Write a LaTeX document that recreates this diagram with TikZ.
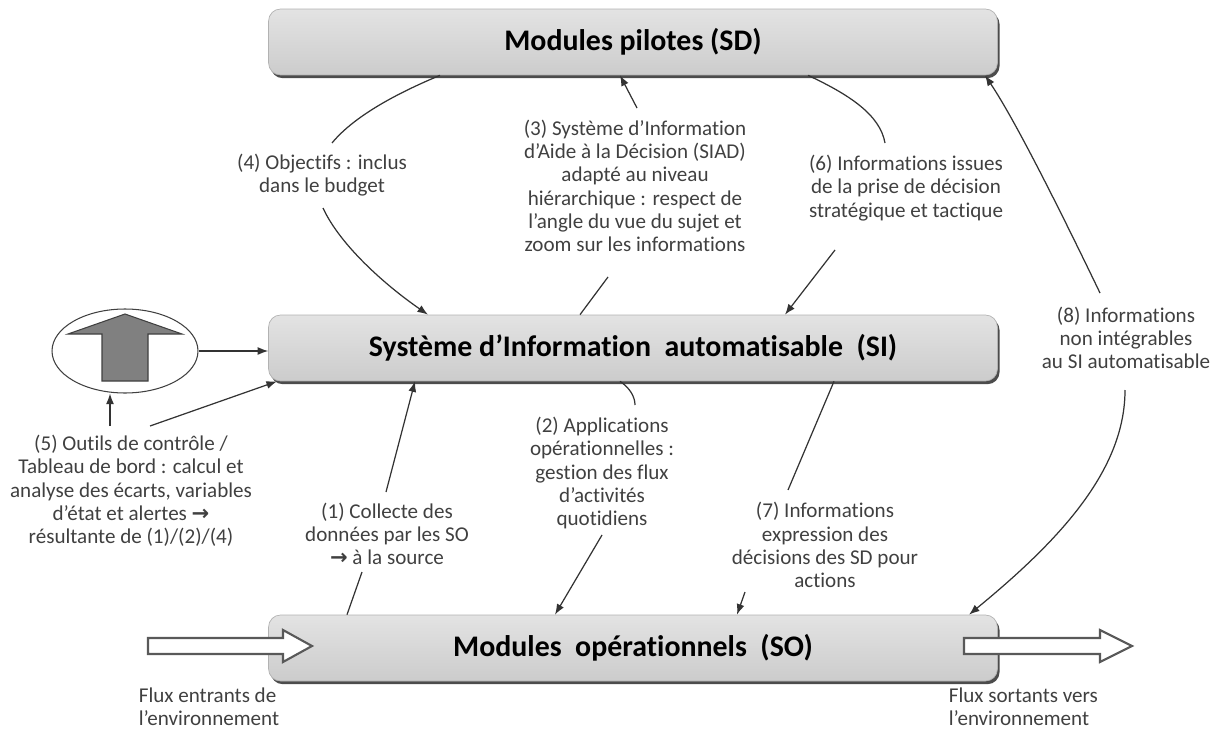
\documentclass[tikz,border=0pt]{standalone}
\usepackage{fontspec}
\setmainfont{Carlito}[Ligatures={NoCommon,NoContextual,NoRequired}]
\newfontfamily\arrowfont{DejaVu Sans}
\usetikzlibrary{shapes.geometric,shadows,arrows.meta}

\newcommand{\fleche}{{\arrowfont\bfseries\char"2192}}

\tikzset{
  module/.style={rounded corners=0.24cm, draw=gray!60,
    top color=gray!22, middle color=gray!48, bottom color=gray!40,
    minimum width=14.58cm, minimum height=1.32cm,
    drop shadow={shadow xshift=1.2pt, shadow yshift=-1.8pt, fill=black!70, opacity=1},
    font=\fontsize{17}{20}\selectfont\bfseries},
  lbl/.style={font=\fontsize{12}{13.25}\selectfont, align=center, text=black!75, inner sep=2pt},
  link/.style={draw=black!80, line width=0.7pt},
  flux/.style={draw=black!65, fill=white, line width=1.2pt},
}

\begin{document}
\begin{tikzpicture}[x=0.02cm, y=-0.02cm, >={Latex[length=6pt,width=4.5pt]}]
\useasboundingbox (0,0) rectangle (1219,733);

% les trois niveaux
\node[module] (sd) at (633,42) {Modules pilotes (SD)};
\node[module] (si) at (633,348) {Système d’Information\ \ automatisable\ \ (SI)};
\node[module] (so) at (633,648) {Modules\ \ opérationnels\ \ (SO)};

% flux avec l'environnement
\draw[flux] (148,638) -- (283,638) -- (283,630) -- (312,646) -- (283,662) -- (283,654) -- (148,654) -- cycle;
\draw[flux] (964,638) -- (1100,638) -- (1100,630) -- (1132,646) -- (1100,662) -- (1100,654) -- (964,654) -- cycle;
\node[lbl, align=left, anchor=west] (fin) at (135,707) {Flux entrants de\\l’environnement};
\node[lbl, align=left, anchor=west] (fout) at (945,707) {Flux sortants vers\\l’environnement};

% controle
\node[draw=black!75, ellipse, line width=0.6pt, minimum width=2.92cm, minimum height=1.68cm] (ctrl) at (125,351) {};
\draw[draw=black!75, fill=gray, line width=0.6pt] (125,314) -- (182,334) -- (148,334) -- (148,381)
  -- (102,381) -- (102,334) -- (68,334) -- cycle;

% textes
\node[lbl] (t3) at (635,186) {(3) Système d’Information\\d’Aide à la Décision (SIAD)\\adapté au niveau\\hiérarchique : respect de\\l’angle du vue du sujet et\\zoom sur les informations};
\node[lbl] (t4) at (322,175) {(4) Objectifs : inclus\\dans le budget};
\node[lbl] (t6) at (906,188) {(6) Informations issues\\de la prise de décision\\stratégique et tactique};
\node[lbl] (t5) at (131,491) {(5) Outils de contrôle /\\Tableau de bord :  calcul et\\analyse des écarts, variables\\d’état et alertes \fleche\\résultante de (1)/(2)/(4)};
\node[lbl] (t1) at (387,534) {(1) Collecte des\\données par les SO\\\fleche{} à la source};
\node[lbl] (t2) at (602,473) {(2) Applications\\opérationnelles :\\gestion des flux\\d’activités\\quotidiens};
\node[lbl] (t7) at (825,545) {(7) Informations\\expression des\\décisions des SD pour\\actions};
\node[lbl] (t8) at (1126,338) {(8) Informations\\non intégrables\\au SI automatisable};

% extremites libres
\coordinate (e4a) at (332,143);
\coordinate (e4b) at (323,208);
\coordinate (e3a) at (637,108);
\coordinate (e3b) at (608,277);
\coordinate (e6a) at (885,143);
\coordinate (e6b) at (835,250);
\coordinate (e5a) at (110,426);
\coordinate (e5b) at (150,426);
\coordinate (e1a) at (386,492);
\coordinate (e1b) at (362,572);
\coordinate (e2a) at (635,405);
\coordinate (e2b) at (602,535);
\coordinate (e7a) at (788,490);
\coordinate (e7b) at (745,592);
\coordinate (e8a) at (1100,293);
\coordinate (e8b) at (1125,390);

% liaisons
\draw[link] (sd.south -| 440,0) .. controls (400,92) and (355,115) .. (e4a);
\draw[link,->] (e4b) .. controls (340,245) and (385,285) .. (si.north -| 428,0);
\draw[link,->] (e3a) -- (sd.south -| 620,0);
\draw[link] (e3b) -- (si.north -| 580,0);
\draw[link] (sd.south -| 808,0) .. controls (850,95) and (880,115) .. (e6a);
\draw[link,->] (e6b) -- (si.north -| 785,0);
\draw[link,->] (e5a) -- (ctrl.south -| e5a);
\draw[link,->] (ctrl.east) -- (ctrl.east -| si.west);
\draw[link,->] (e5b) -- (si.south -| 277,0);
\draw[link,->] (e1a) -- (si.south -| 415,0);
\draw[link] (e1b) -- (so.north -| 347,0);
\draw[link] (si.south -| 620,0) .. controls (630,388) and (635,397) .. (e2a);
\draw[link,->] (e2b) -- (so.north -| 555,0);
\draw[link] (si.south -| 834,0) -- (e7a);
\draw[link,->] (e7b) -- (so.north -| 737,0);
\draw[link,->] (e8a) .. controls (1060,210) and (1015,120) .. (sd.south -| 985,0);
\draw[link,->] (e8b) .. controls (1125,470) and (1060,540) .. (so.north -| 969,0);
\end{tikzpicture}
\end{document}
